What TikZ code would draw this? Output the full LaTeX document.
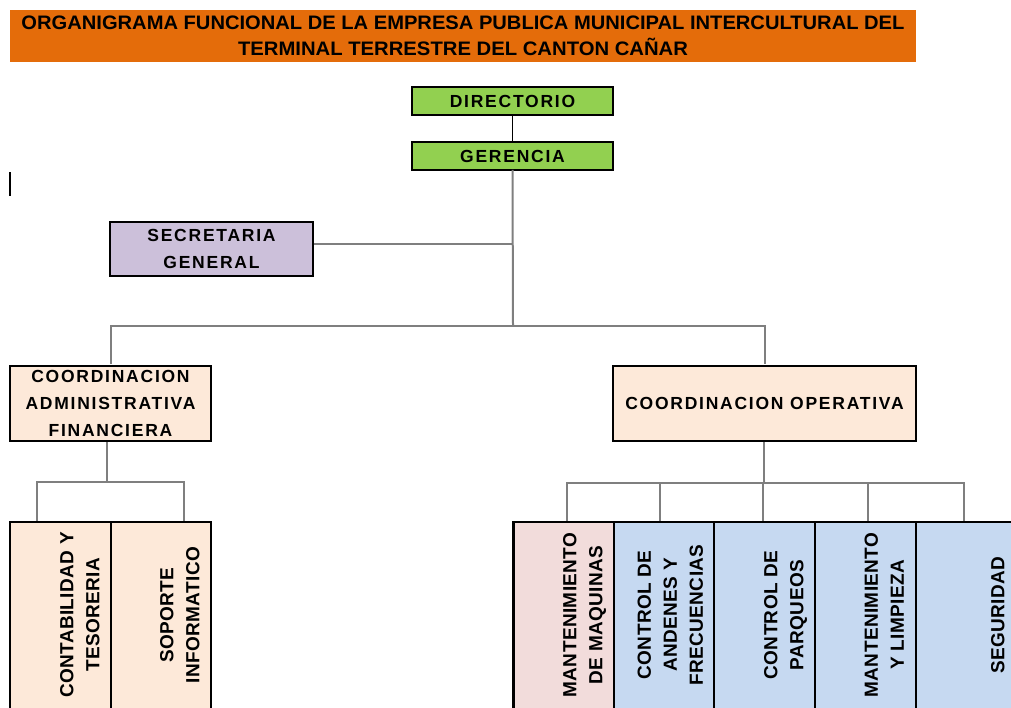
\documentclass[tikz,border=0pt]{standalone}
\usepackage{fontspec}
\usepackage{graphicx}
\setmainfont{Liberation Sans}
\newfontfamily\boxfont{Liberation Sans}[LetterSpace=10]
\newfontfamily\colfont{Liberation Sans}[LetterSpace=2]
\definecolor{orangeT}{HTML}{E46C0A}
\definecolor{greenB}{HTML}{92D050}
\definecolor{lavB}{HTML}{CCC0DA}
\definecolor{peachB}{HTML}{FDE9D9}
\definecolor{pinkB}{HTML}{F2DCDB}
\definecolor{blueB}{HTML}{C6D9F1}
\definecolor{connG}{HTML}{7F7F7F}
\tikzset{
  orgbox/.style={draw=black, line width=1.8pt, align=center, inner sep=0pt,
    font=\boxfont\bfseries\fontsize{17.5}{27}\selectfont},
  colbox/.style={draw=black, line width=1.6pt, inner sep=0pt, minimum height=187pt},
  coltext/.style={rotate=90, anchor=south, align=center, inner sep=0pt, text depth=0pt,
    font=\colfont\bfseries\fontsize{19}{26}\selectfont},
  conn/.style={draw=connG, line width=2pt},
  thinconn/.style={draw=black, line width=1.3pt}
}
\begin{document}
\begin{tikzpicture}[x=1pt,y=-1pt]
\useasboundingbox (0,0) rectangle (1011,707);
\clip (0,0) rectangle (1011,707);
% title
\node[fill=orangeT, minimum width=906pt, minimum height=52pt, inner sep=0pt, align=center,
  font=\bfseries\fontsize{19.5}{26.5}\selectfont] (title) at (463,36)
  {\resizebox{883pt}{\height}{ORGANIGRAMA FUNCIONAL DE LA EMPRESA PUBLICA MUNICIPAL INTERCULTURAL DEL}\\
   \resizebox{450pt}{\height}{TERMINAL TERRESTRE DEL CANTON CAÑAR}};
% top boxes
\node[orgbox, fill=greenB, minimum width=201pt, minimum height=28pt] (dir) at (512.5,101) {DIRECTORIO};
\node[orgbox, fill=greenB, minimum width=201pt, minimum height=28pt] (ger) at (512.5,156) {GERENCIA};
\node[orgbox, fill=lavB, minimum width=203pt, minimum height=54pt] (sec) at (211.5,249) {SECRETARIA\\GENERAL};
\node[orgbox, fill=peachB, minimum width=201pt, minimum height=75pt] (caf) at (110.5,403.5) {COORDINACION\\ADMINISTRATIVA\\FINANCIERA};
\node[orgbox, fill=peachB, minimum width=303pt, minimum height=75pt] (co) at (764.5,403.5) {COORDINACION OPERATIVA};
% bottom columns
\node[colbox, fill=peachB, minimum width=101pt] (cl1) at (60.5,615.5) {};
\node[colbox, fill=peachB, minimum width=100pt] (cl2) at (161,615.5) {};
\node[colbox, fill=pinkB, minimum width=100pt] (cr1) at (564,615.5) {};
\node[colbox, fill=blueB, minimum width=100pt] (cr2) at (664,615.5) {};
\node[colbox, fill=blueB, minimum width=101pt] (cr3) at (764.5,615.5) {};
\node[colbox, fill=blueB, minimum width=101pt] (cr4) at (865.5,615.5) {};
\node[colbox, fill=blueB, minimum width=100pt] (cr5) at (966,615.5) {};
\draw[black, line width=2.6pt] (cr1.north west) -- (cr1.south west);
% column texts
\node[coltext] (tl1) at (99.5,615) {CONTABILIDAD Y\\TESORERIA};
\node[coltext] (tl2) at (199.5,615) {SOPORTE\\INFORMATICO};
\node[coltext] (tr1) at (602.5,615) {MANTENIMIENTO\\DE MAQUINAS};
\node[coltext] (tr2) at (703,615) {CONTROL DE\\ANDENES Y\\FRECUENCIAS};
\node[coltext] (tr3) at (803.5,615) {CONTROL DE\\PARQUEOS};
\node[coltext] (tr4) at (904,615) {MANTENIMIENTO\\Y LIMPIEZA};
\node[coltext] (tr5) at (1004.5,615) {SEGURIDAD};
% connectors
\coordinate (j1) at (513,326);
\coordinate (bus1) at (0,482);
\coordinate (bus2) at (0,483);
\coordinate (d1) at (37,522);
\coordinate (d2) at (184,522);
\coordinate (e1) at (567,522);
\coordinate (e2) at (660,522);
\coordinate (e3) at (763,522);
\coordinate (e4) at (868,522);
\coordinate (e5) at (964,522);
\draw[thinconn] (dir.south) -- (ger.south |- dir.south) -- (ger.north);
\draw[conn] ([yshift=1pt]ger.south) -- (j1);
\draw[conn] ([yshift=5pt]sec.east) -- ([yshift=5pt]sec.east -| j1);
\draw[conn] ([yshift=1pt]caf.north) |- (j1) -| ([yshift=1pt]co.north);
\draw[conn] ([xshift=-4pt]caf.south) -- ([xshift=-4pt]caf.south |- bus1);
\draw[conn] ([yshift=1pt]d1) |- (d2 |- bus1) -- ([yshift=1pt]d2);
\draw[conn] ([xshift=-1pt]co.south) -- ([xshift=-1pt]co.south |- bus2);
\draw[conn] ([yshift=1pt]e1) |- (e5 |- bus2) -- ([yshift=1pt]e5);
\draw[conn] ([yshift=1pt]e2) -- (e2 |- bus2);
\draw[conn] ([yshift=1pt]e3) -- (e3 |- bus2);
\draw[conn] ([yshift=1pt]e4) -- (e4 |- bus2);
% stray mark
\coordinate (m1) at (10,172);
\coordinate (m2) at (10,196);
\draw[black, line width=1.6pt] (m1) -- (m2);
\end{tikzpicture}
\end{document}
